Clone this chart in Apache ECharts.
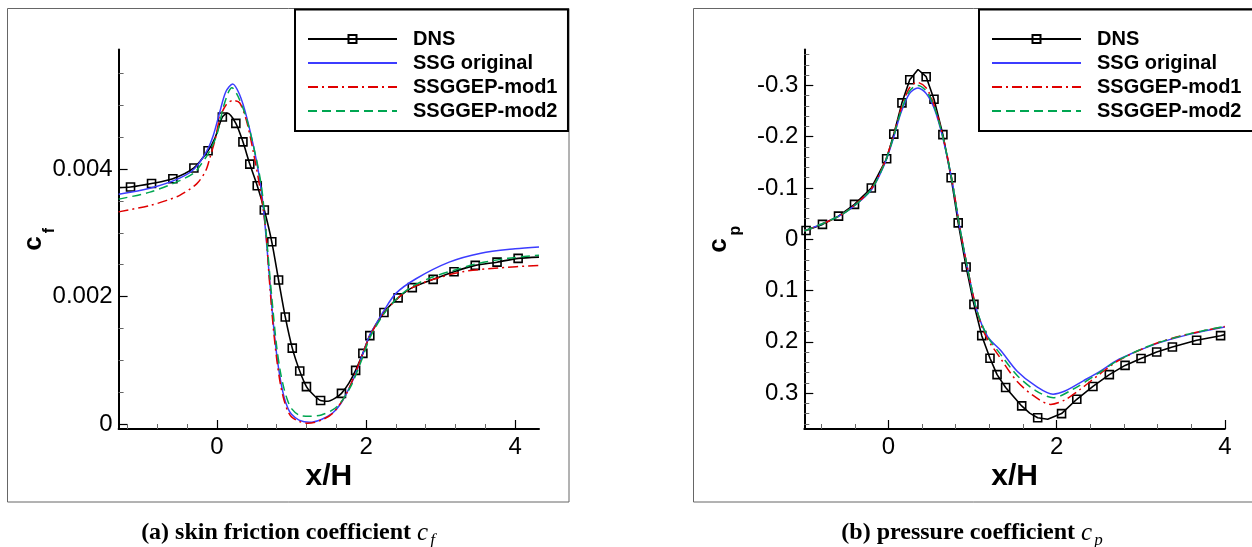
<!DOCTYPE html>
<html><head><meta charset="utf-8">
<script src="https://cdn.jsdelivr.net/npm/echarts@6/dist/echarts.min.js"></script>
<style>html,body{margin:0;padding:0;background:#fff}#c{width:1252px;height:547px}</style>
</head><body><div id="c"></div>
<script>
// ---------------- data ----------------
const seriesNames = ['DNS', 'SSG original', 'SSGGEP-mod1', 'SSGGEP-mod2'];

// (a) skin friction coefficient
const cfXMajor = [0, 2, 4];
const cfXMinor = [-1.2, -0.8, -0.4, 0.4, 0.8, 1.2, 1.6, 2.4, 2.8, 3.2, 3.6];
const cfYMajor = [0, 0.002, 0.004];
const cfYMinor = [0.0005, 0.001, 0.0015, 0.0025, 0.003, 0.0035, 0.0045, 0.005, 0.0055];

const cfDnsMarkX = [-1.16, -0.878, -0.592, -0.31, -0.12, 0.072, 0.253, 0.348, 0.44, 0.54, 0.635, 0.735, 0.826, 0.916, 1.01, 1.11, 1.20, 1.39, 1.67, 1.86, 1.957, 2.05, 2.24, 2.43, 2.62, 2.90, 3.18, 3.465, 3.757, 4.04];
const cfDnsMarkY = [0.00372, 0.003775, 0.00385, 0.00402, 0.00429, 0.00482, 0.00472, 0.00443, 0.00408, 0.00374, 0.00336, 0.00286, 0.00226, 0.00168, 0.00119, 0.00083, 0.000586, 0.000367, 0.00048, 0.00084, 0.001107, 0.001386, 0.00175, 0.00198, 0.00214, 0.00227, 0.00239, 0.00249, 0.00254, 0.0026];
const cfDnsLineX = [-1.32, -0.03, 0.14, 1.30, 1.49, 1.58, 1.77, 4.32];
const cfDnsLineY = [0.00371, 0.00448, 0.00488, 0.00045, 0.000355, 0.0004, 0.00064, 0.00262];

const cfSsgX = [-1.32, -0.9, -0.5, -0.3, -0.14, -0.05, 0.04, 0.12, 0.21, 0.30, 0.40, 0.53, 0.60, 0.65, 0.70, 0.75, 0.80, 0.85, 0.90, 0.95, 1.0, 1.1, 1.24, 1.40, 1.555, 1.65, 1.734, 1.85, 1.956, 2.05, 2.135, 2.24, 2.40, 2.67, 3.115, 3.54, 4.0, 4.32];
const cfSsgY = [0.003605, 0.0037, 0.00386, 0.00401, 0.00428, 0.00453, 0.00491, 0.00522, 0.00534, 0.00518, 0.00481, 0.00413, 0.00362, 0.00305, 0.00235, 0.00165, 0.0011, 0.0007, 0.00042, 0.00025, 0.00015, 0.00006, 0.000025, 0.00007, 0.000175, 0.0003, 0.00047, 0.00076, 0.0011, 0.0014, 0.00157, 0.00178, 0.00205, 0.00228, 0.00254, 0.00268, 0.00275, 0.00278];

const cfMod1X = [-1.32, -0.9, -0.674, -0.5, -0.273, -0.15, -0.095, -0.028, 0.04, 0.128, 0.217, 0.306, 0.396, 0.484, 0.574, 0.65, 0.70, 0.75, 0.80, 0.85, 0.90, 0.95, 1.0, 1.1, 1.22, 1.40, 1.555, 1.734, 1.85, 1.956, 2.05, 2.24, 2.43, 2.62, 2.90, 3.295, 3.78, 4.32];
const cfMod1Y = [0.00333, 0.00343, 0.00351, 0.00359, 0.00377, 0.00398, 0.00418, 0.00445, 0.00481, 0.00502, 0.00508, 0.00504, 0.00476, 0.00429, 0.00372, 0.00309, 0.0023, 0.00158, 0.00103, 0.00063, 0.00037, 0.0002, 0.00011, 0.00004, 0.00001, 0.00006, 0.00017, 0.00047, 0.00078, 0.0011, 0.00138, 0.00174, 0.00198, 0.00214, 0.00227, 0.00239, 0.00245, 0.00249];

const cfMod2X = [-1.32, -0.9, -0.5, -0.3, -0.23, -0.095, 0.0, 0.08, 0.15, 0.20, 0.28, 0.40, 0.53, 0.60, 0.65, 0.70, 0.75, 0.80, 0.85, 0.90, 0.95, 1.0, 1.1, 1.25, 1.4, 1.55, 1.65, 1.8, 1.956, 2.05, 2.24, 2.43, 2.62, 2.90, 3.2, 3.5, 3.9, 4.32];
const cfMod2Y = [0.00353, 0.00364, 0.00382, 0.00395, 0.00405, 0.00429, 0.00455, 0.00495, 0.0052, 0.00528, 0.00515, 0.00478, 0.00415, 0.0037, 0.00312, 0.00245, 0.0018, 0.00122, 0.00082, 0.00055, 0.00036, 0.00024, 0.00014, 0.00012, 0.00014, 0.00022, 0.00032, 0.0006, 0.00105, 0.00135, 0.00173, 0.00199, 0.00216, 0.00231, 0.00242, 0.00252, 0.0026, 0.00265];

// (b) pressure coefficient
const cpXMajor = [0, 2, 4];
const cpXMinor = [-0.8, -0.4, 0.4, 0.8, 1.2, 1.6, 2.4, 2.8, 3.2, 3.6];
const cpYMajor = [-0.3, -0.2, -0.1, 0, 0.1, 0.2, 0.3];
const cpYMinor = [-0.36, -0.34, -0.32, -0.28, -0.26, -0.24, -0.22, -0.18, -0.16, -0.14, -0.12, -0.08, -0.06, -0.04, -0.02, 0.02, 0.04, 0.06, 0.08, 0.12, 0.14, 0.16, 0.18, 0.22, 0.24, 0.26, 0.28, 0.32, 0.34, 0.36];

const cpDnsMarkX = [-0.979, -0.784, -0.593, -0.403, -0.203, -0.021, 0.064, 0.161, 0.254, 0.449, 0.542, 0.648, 0.746, 0.83, 0.924, 1.017, 1.11, 1.208, 1.292, 1.394, 1.585, 1.775, 2.059, 2.24, 2.432, 2.627, 2.814, 3.004, 3.19, 3.377, 3.665, 3.95];
const cpDnsMarkY = [-0.017, -0.029, -0.045, -0.068, -0.100, -0.157, -0.205, -0.266, -0.311, -0.317, -0.273, -0.204, -0.120, -0.032, 0.054, 0.127, 0.188, 0.232, 0.264, 0.289, 0.325, 0.348, 0.340, 0.312, 0.287, 0.264, 0.246, 0.2325, 0.220, 0.210, 0.197, 0.188];
const cpDnsLineX = [-1.0, 0.352, 1.68, 1.894, 4.0];
const cpDnsLineY = [-0.016, -0.331, 0.339, 0.351, 0.186];

const cpSsgX = [-1.0, -0.6, -0.4, -0.2, -0.05, 0.05, 0.15, 0.25, 0.35, 0.45, 0.55, 0.65, 0.75, 0.85, 0.95, 1.05, 1.18, 1.336, 1.534, 1.75, 1.958, 2.1, 2.318, 2.52, 2.742, 3.165, 3.59, 4.0];
const cpSsgY = [-0.016, -0.044, -0.066, -0.097, -0.145, -0.192, -0.247, -0.284, -0.295, -0.284, -0.253, -0.196, -0.120, -0.022, 0.064, 0.138, 0.19, 0.217, 0.258, 0.286, 0.302, 0.296, 0.276, 0.257, 0.234, 0.205, 0.185, 0.171];

const cpMod1X = [-1.0, -0.6, -0.4, -0.2, -0.05, 0.05, 0.15, 0.25, 0.34, 0.45, 0.55, 0.65, 0.75, 0.85, 0.95, 1.05, 1.15, 1.336, 1.534, 1.75, 1.93, 2.1, 2.286, 2.52, 2.742, 3.165, 3.59, 4.0];
const cpMod1Y = [-0.016, -0.044, -0.067, -0.099, -0.148, -0.196, -0.254, -0.295, -0.306, -0.295, -0.259, -0.199, -0.121, -0.022, 0.064, 0.138, 0.186, 0.233, 0.278, 0.308, 0.322, 0.313, 0.292, 0.262, 0.236, 0.204, 0.184, 0.170];

const cpMod2X = [-1.0, -0.6, -0.4, -0.2, -0.05, 0.05, 0.15, 0.25, 0.35, 0.45, 0.55, 0.65, 0.75, 0.85, 0.95, 1.05, 1.18, 1.336, 1.534, 1.75, 1.96, 2.2, 2.5, 2.742, 3.165, 3.59, 4.0];
const cpMod2Y = [-0.016, -0.044, -0.066, -0.098, -0.146, -0.194, -0.250, -0.289, -0.300, -0.289, -0.256, -0.198, -0.120, -0.022, 0.064, 0.138, 0.19, 0.225, 0.266, 0.295, 0.309, 0.292, 0.261, 0.235, 0.204, 0.184, 0.170];

// ---------------- helpers ----------------
const FONT = 'Liberation Sans';
const SERIF = 'Liberation Serif';
const COLORS = ['#000000', '#3c3cff', '#e00000', '#00a651'];
const SQUARE = 'path://M0,0H10V10H0Z';

function zip(xs, ys) { return xs.map((x, i) => [x, ys[i]]); }
function dnsData(mx, my, lx, ly) {
  const pts = mx.map((x, i) => ({ value: [x, my[i]] }));
  lx.forEach((x, i) => pts.push({ value: [x, ly[i]], symbol: 'none' }));
  pts.sort((a, b) => a.value[0] - b.value[0]);
  return pts;
}
function mainAxis(gridIndex, min, max, ticks, fmt, extra) {
  return Object.assign({
    type: 'value', gridIndex, min, max,
    axisLine: { show: true, onZero: false, lineStyle: { color: '#000', width: 2 } },
    axisTick: { show: true, inside: true, length: 9, customValues: ticks, lineStyle: { color: '#000', width: 1.2 } },
    axisLabel: { show: true, customValues: ticks, formatter: fmt, margin: 6, color: '#000', fontSize: 24, fontFamily: FONT },
    splitLine: { show: false }
  }, extra);
}
function minorAxis(gridIndex, min, max, ticks, extra) {
  return Object.assign({
    type: 'value', gridIndex, min, max,
    axisLine: { show: false, onZero: false },
    axisTick: { show: true, inside: true, length: 5, customValues: ticks, lineStyle: { color: '#666', width: 1 } },
    axisLabel: { show: false },
    splitLine: { show: false }
  }, extra);
}
const xName = { name: 'x/H', nameLocation: 'middle', nameGap: 33, nameMoveOverlap: false,
  nameTextStyle: { fontSize: 30, fontWeight: 'bold', fontFamily: FONT, color: '#000' } };
function yName(sub) {
  return { name: '{c|c}{s|' + sub + '}', nameLocation: 'middle', nameRotate: 90, nameGap: 61, nameMoveOverlap: false,
    nameTextStyle: { color: '#000', rich: {
      c: { fontSize: 26, fontWeight: 'bold', fontFamily: FONT, lineHeight: 26, verticalAlign: 'top', color: '#000' },
      s: { fontSize: 16, fontWeight: 'bold', fontFamily: FONT, lineHeight: 37, padding: [0, 0, 0, 3], verticalAlign: 'bottom', color: '#000' }
    } } };
}
function legend(left, padRight) {
  return {
    left: left, top: 9.5, orient: 'vertical', selectedMode: false,
    itemWidth: 89, itemHeight: 10, itemGap: 4,
    padding: [19.5, padRight, 10, 12],
    borderColor: '#000', borderWidth: 2, backgroundColor: '#fff',
    textStyle: { fontFamily: FONT, fontWeight: 'bold', fontSize: 20, lineHeight: 20, color: '#000', padding: [0, 0, 0, 11] },
    data: [
      { name: seriesNames[0] },
      { name: seriesNames[1], itemStyle: { opacity: 0 } },
      { name: seriesNames[2], itemStyle: { opacity: 0 } },
      { name: seriesNames[3], itemStyle: { opacity: 0 } }
    ]
  };
}
function modelSeries(idx, name, data, type, smooth) {
  return { type: 'line', name: name, xAxisIndex: idx, yAxisIndex: idx, data: data,
    smooth: smooth, symbol: 'none', silent: true, z: 3,
    lineStyle: { color: COLORS[seriesNames.indexOf(name)], width: 1.5, type: type },
    itemStyle: { color: COLORS[seriesNames.indexOf(name)] } };
}
function dnsSeries(idx, data, smooth) {
  return { type: 'line', name: 'DNS', xAxisIndex: idx, yAxisIndex: idx, data: data,
    smooth: smooth, symbol: SQUARE, symbolSize: 8, silent: true, z: 2,
    lineStyle: { color: '#000', width: 1.6 },
    itemStyle: { color: 'rgba(0,0,0,0)', borderColor: '#000', borderWidth: 1.6 } };
}
function caption(x, label, sub) {
  return { type: 'text', x: x, y: 535, z: 10,
    style: { text: '{b|' + label + ' }{i|c}{s|' + sub + '}', align: 'center', verticalAlign: 'middle', fill: '#000',
      rich: {
        b: { fontFamily: SERIF, fontWeight: 'bold', fontSize: 24, lineHeight: 24, verticalAlign: 'top', fill: '#000' },
        i: { fontFamily: SERIF, fontStyle: 'italic', fontSize: 25, lineHeight: 24, verticalAlign: 'top', fill: '#000' },
        s: { fontFamily: SERIF, fontStyle: 'italic', fontSize: 17, lineHeight: 29, padding: [0, 0, 0, 2], verticalAlign: 'bottom', fill: '#000' }
      } } };
}

const fmtCfY = v => (v === 0 ? '0' : v.toFixed(3));
const fmtCpY = v => (Math.abs(v) < 1e-9 ? '0' : v.toFixed(1));
const fmtX = v => String(v);

const option = {
  animation: false,
  backgroundColor: '#fff',
  textStyle: { fontFamily: FONT },
  grid: [
    { left: 118.6, top: 49.5, width: 420.4, height: 379.5, outerBoundsMode: 'none' },
    { left: 804.3, top: 49.5, width: 420.5, height: 379.5, outerBoundsMode: 'none' }
  ],
  xAxis: [
    mainAxis(0, -1.32, 4.32, cfXMajor, fmtX, Object.assign({ position: 'bottom' }, xName)),
    minorAxis(0, -1.32, 4.32, cfXMinor, { position: 'bottom' }),
    mainAxis(1, -1, 4, cpXMajor, fmtX, Object.assign({ position: 'bottom' }, xName)),
    minorAxis(1, -1, 4, cpXMinor, { position: 'bottom' })
  ],
  yAxis: [
    mainAxis(0, -0.00008, 0.00588, cfYMajor, fmtCfY, Object.assign({ position: 'left' }, yName('f'))),
    minorAxis(0, -0.00008, 0.00588, cfYMinor, { position: 'left' }),
    mainAxis(1, -0.37, 0.37, cpYMajor, fmtCpY, Object.assign({ position: 'left', inverse: true }, yName('p'))),
    minorAxis(1, -0.37, 0.37, cpYMinor, { position: 'left', inverse: true })
  ],
  legend: [legend(295, 10.5), legend(979, 16)],
  graphic: [
    { type: 'rect', shape: { x: 7.5, y: 8.5, width: 561.5, height: 493.5 }, style: { fill: 'none', stroke: '#666', lineWidth: 1 }, z: -10, silent: true },
    { type: 'rect', shape: { x: 693.5, y: 8.5, width: 600, height: 493.5 }, style: { fill: 'none', stroke: '#666', lineWidth: 1 }, z: -10, silent: true },
    caption(288, '(a) skin friction coefficient', 'f'),
    caption(972, '(b) pressure coefficient', 'p')
  ],
  series: [
    dnsSeries(0, dnsData(cfDnsMarkX, cfDnsMarkY, cfDnsLineX, cfDnsLineY), 0.25),
    modelSeries(0, 'SSG original', zip(cfSsgX, cfSsgY), 'solid', 0.3),
    modelSeries(0, 'SSGGEP-mod1', zip(cfMod1X, cfMod1Y), [10, 4, 2, 4], 0.3),
    modelSeries(0, 'SSGGEP-mod2', zip(cfMod2X, cfMod2Y), [9, 5], 0.3),
    dnsSeries(2, dnsData(cpDnsMarkX, cpDnsMarkY, cpDnsLineX, cpDnsLineY), false),
    modelSeries(2, 'SSG original', zip(cpSsgX, cpSsgY), 'solid', 0.3),
    modelSeries(2, 'SSGGEP-mod1', zip(cpMod1X, cpMod1Y), [10, 4, 2, 4], 0.3),
    modelSeries(2, 'SSGGEP-mod2', zip(cpMod2X, cpMod2Y), [9, 5], 0.3)
  ]
};

const chart = echarts.init(document.getElementById('c'), null, { renderer: 'canvas' });
chart.setOption(option);
</script>
</body></html>
